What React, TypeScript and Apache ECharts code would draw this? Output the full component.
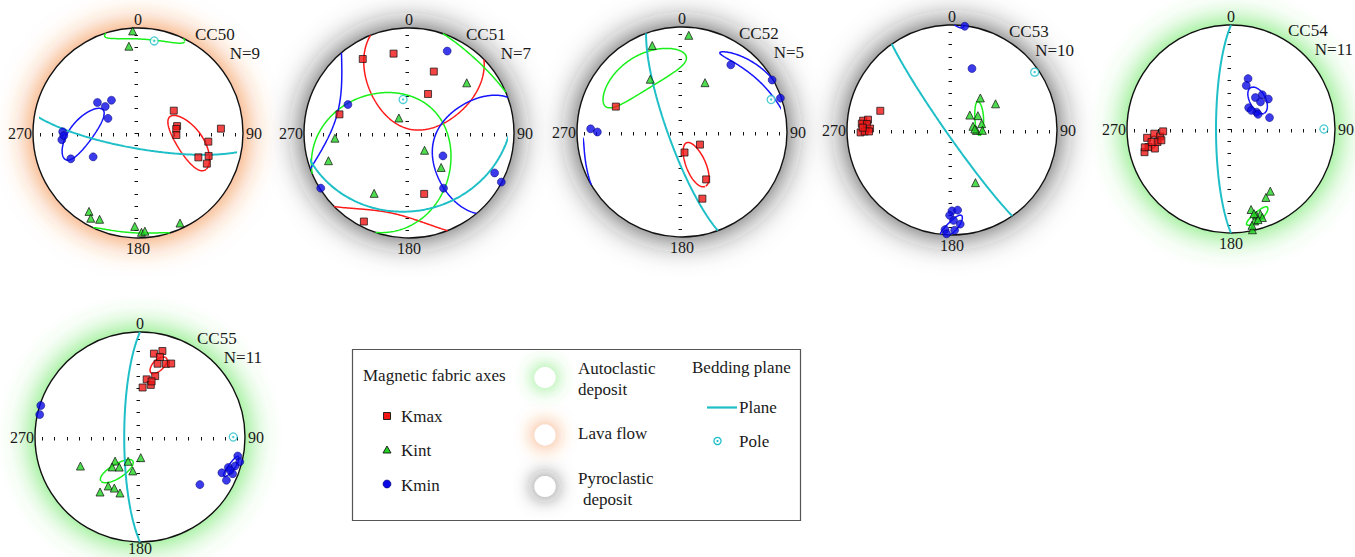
import React, { useEffect, useRef } from "react";
import * as echarts from "echarts";

type Dir = [number, number]; // [declination, inclination] in degrees
type Cone = { dec: number; inc: number; a: number; b: number; az: number }; // confidence cone: mean, semi-angles, map azimuth of major axis

// ---------- CC50 (lava flow) ----------
const cc50Kmax: Dir[] = [[58, 57], [80, 59], [84, 60], [93, 60], [87, 22], [97, 33], [108, 30], [112, 38], [114, 29]];
const cc50Kint: Dir[] = [[357, 3], [354, 18], [212, 13], [209, 8], [204, 11], [182, 12], [178, 6], [176, 7], [155, 6]];
const cc50Kmin: Dir[] = [[307, 50], [309, 57], [321, 57], [296, 64], [271, 29], [265, 28], [268, 30], [249, 32], [242, 50]];
const cc50Pole: Dir = [10, 12];
const cc50Cones: Cone[] = [
  { dec: 100, inc: 48, a: 25, b: 10, az: 141 },
  { dec: 4, inc: 3, a: 23, b: 8.5, az: 94 },
  { dec: 270, inc: 45, a: 24, b: 9, az: 43 },
];

// ---------- CC51 (pyroclastic deposit) ----------
const cc51Kmax: Dir[] = [[349, 24], [328, 18], [22, 37], [26, 56], [285, 32], [166, 40], [207, 6]];
const cc51Kint: Dir[] = [[49, 28], [326, 76], [266, 30], [251, 20], [138, 72], [137, 53], [210, 34]];
const cc51Kmin: Dir[] = [[25, 15], [295, 36], [124, 58], [148, 38], [238, 1], [115, 11], [118, 0.5]];
const cc51Pole: Dir = [350, 63.5];
const cc51Cones: Cone[] = [
  { dec: 12, inc: 32, a: 55, b: 41, az: 12 },
  { dec: 223, inc: 55, a: 61, b: 52, az: 223 },
  { dec: 105, inc: 20, a: 50, b: 38, az: 105 },
];

// ---------- CC52 (pyroclastic deposit) ----------
const cc52Kmax: Dir[] = [[291, 33], [125, 73], [173, 74], [153, 48], [163, 34]];
const cc52Kint: Dir[] = [[4, 8.5], [341, 14], [329, 41], [25, 47]];
const cc52Kmin: Dir[] = [[36, 22], [60, 1], [71, 1], [272, 14], [270, 20.5]];
const cc52Pole: Dir = [70, 10.6];
const cc52Cones: Cone[] = [
  { dec: 157, inc: 62, a: 19, b: 7.3, az: 157 },
  { dec: 325, inc: 31.6, a: 33, b: 15, az: 60 },
  { dec: 57, inc: 7, a: 32.5, b: 5.5, az: 125 },
];

// ---------- CC53 (pyroclastic deposit) ----------
const cc53Kmax: Dir[] = [[285, 30], [276, 16], [277, 20.5], [274, 15], [274, 20], [271, 23], [268.5, 14], [269, 18], [269, 22], [271.5, 16]];
const cc53Kint: Dir[] = [[41.5, 56.5], [59, 50], [50, 72], [61, 67], [80, 73.5], [78, 66.4], [91, 71], [90.6, 66.4], [87.5, 72.3], [156, 44.3]];
const cc53Kmin: Dir[] = [[7, 0.5], [18, 38.4], [180, 24], [176, 24.5], [175, 11], [178.5, 5], [184, 5.5], [183, 1.2], [179, 15], [181.6, 19.8]];
const cc53Pole: Dir = [55, 4.4];
const cc53Cones: Cone[] = [
  { dec: 272.5, inc: 20, a: 4, b: 2.5, az: 0 },
  { dec: 67, inc: 67, a: 13, b: 3.4, az: 178 },
  { dec: 180, inc: 8.5, a: 12.5, b: 3.5, az: 207 },
];

// ---------- CC54 (autoclastic deposit) ----------
const cc54Kmax: Dir[] = [[264, 20], [266.5, 27], [264, 32], [268, 35], [255, 15], [257.7, 20], [255.6, 25.4], [260, 29], [260.7, 23.6], [258, 16.4], [260.8, 32.7]];
const cc54Kint: Dir[] = [[147.7, 30], [153, 27], [166, 21.3], [163.6, 14.7], [161, 14.4], [160.5, 10.6], [165.6, 9.6], [168, 1.1], [163.4, 10], [164.8, 16.8], [167.7, 5.8]];
const cc54Kmin: Dir[] = [[18.7, 47.6], [19.3, 53.4], [37.8, 58.6], [42.4, 53.2], [51.2, 52], [47.4, 58.4], [39.6, 68.3], [56.7, 66], [61.5, 65.8], [73.5, 58.3], [47.4, 68.4]];
const cc54Pole: Dir = [90, 11.7];
const cc54Cones: Cone[] = [
  { dec: 260.5, inc: 25, a: 4.5, b: 3, az: 215 },
  { dec: 163, inc: 13, a: 9.4, b: 3.7, az: 214 },
  { dec: 43, inc: 59, a: 11, b: 6.4, az: 155 },
];

// ---------- CC55 (autoclastic deposit) ----------
const cc55Kmax: Dir[] = [[9.5, 20.6], [14.6, 16.5], [13.5, 29], [19.5, 27], [23, 25], [14, 40], [6.6, 44], [11.7, 48], [3, 51], [11.8, 45], [14, 22.5]];
const cc55Kint: Dir[] = [[244, 37], [226, 63], [223, 58], [214.6, 61.5], [206, 69], [192, 63], [178, 74], [213, 43.7], [206.7, 44.7], [216, 35.5], [199.7, 42.8]];
const cc55Kmin: Dir[] = [[287.6, 1], [282.6, 2.4], [128.5, 28], [101, 5.8], [104, 2.4], [107, 6], [109, 12], [113.6, 16], [116.6, 8.8], [111.6, 5.7], [110.3, 9.5]];
const cc55Pole: Dir = [90, 12.2];
const cc55Cones: Cone[] = [
  { dec: 14.4, inc: 30, a: 9, b: 3.8, az: 36 },
  { dec: 214, inc: 57.5, a: 15, b: 5.2, az: 236 },
  { dec: 108, inc: 9, a: 8, b: 3, az: 231 },
];

const DIRECTION_LABELS = ["0", "90", "180", "270"];

type Site = {
  name: string; n: number; kind: "lava" | "pyro" | "auto";
  kmax: Dir[]; kint: Dir[]; kmin: Dir[]; pole: Dir; cones: Cone[];
  cx: number; cy: number; r: number;
};

const SITES: Site[] = [
  { name: "CC50", n: 9, kind: "lava", kmax: cc50Kmax, kint: cc50Kint, kmin: cc50Kmin, pole: cc50Pole, cones: cc50Cones, cx: 138, cy: 133, r: 105 },
  { name: "CC51", n: 7, kind: "pyro", kmax: cc51Kmax, kint: cc51Kint, kmin: cc51Kmin, pole: cc51Pole, cones: cc51Cones, cx: 409, cy: 133, r: 105 },
  { name: "CC52", n: 5, kind: "pyro", kmax: cc52Kmax, kint: cc52Kint, kmin: cc52Kmin, pole: cc52Pole, cones: cc52Cones, cx: 682, cy: 132, r: 105 },
  { name: "CC53", n: 10, kind: "pyro", kmax: cc53Kmax, kint: cc53Kint, kmin: cc53Kmin, pole: cc53Pole, cones: cc53Cones, cx: 952, cy: 130, r: 105 },
  { name: "CC54", n: 11, kind: "auto", kmax: cc54Kmax, kint: cc54Kint, kmin: cc54Kmin, pole: cc54Pole, cones: cc54Cones, cx: 1231, cy: 129, r: 104 },
  { name: "CC55", n: 11, kind: "auto", kmax: cc55Kmax, kint: cc55Kint, kmin: cc55Kmin, pole: cc55Pole, cones: cc55Cones, cx: 140, cy: 437, r: 105 },
];

const GLOW: Record<string, string> = {
  lava: "rgba(240,118,36,0.95)",
  pyro: "rgba(30,30,30,0.85)",
  auto: "rgba(70,225,60,0.95)",
};
const RED = "#f01414";
const GREEN = "#22d422";
const BLUE = "#0a0ae6";
const CYAN = "#1fbfc8";
const CONE_COLORS = ["#ff1a1a", "#19f019", "#1414ff"];
const SERIF = '"Liberation Serif", "Times New Roman", serif';

// Axis ticks sit every TICK of the unit radius; the axes run over 8 ticks either side.
const TICKS = 8;
const TICK = 0.116;
const SCALE = 1 / TICK;
const RAD = Math.PI / 180;

function vec(dec: number, inc: number): number[] {
  const d = dec * RAD, i = inc * RAD;
  return [Math.cos(i) * Math.cos(d), Math.cos(i) * Math.sin(d), Math.sin(i)]; // north, east, down
}
function norm(v: number[]): number[] {
  const l = Math.hypot(v[0], v[1], v[2]);
  return [v[0] / l, v[1] / l, v[2] / l];
}
const neg = (v: number[]) => [-v[0], -v[1], -v[2]];
// Lower-hemisphere equal-area (Schmidt) projection, in axis units.
function toXY(v0: number[]): number[] {
  let v = norm(v0);
  if (v[2] < 0) v = neg(v);
  const k = 1 / Math.sqrt(1 + v[2]);
  return [v[1] * k * SCALE, v[0] * k * SCALE];
}
const dirXY = (d: Dir) => toXY(vec(d[0], d[1]));

function conePaths(c: Cone, steps = 360): number[][][] {
  const m = vec(c.dec, c.inc);
  const D = c.dec * RAD, I = c.inc * RAD;
  const er = [Math.sin(I) * Math.cos(D), Math.sin(I) * Math.sin(D), -Math.cos(I)];
  const et = [-Math.sin(D), Math.cos(D), 0];
  const psi = (c.az - c.dec) * RAD;
  const U = er.map((v, i) => v * Math.cos(psi) + et[i] * Math.sin(psi));
  const V = er.map((v, i) => -v * Math.sin(psi) + et[i] * Math.cos(psi));
  const ta = Math.tan(c.a * RAD), tb = Math.tan(c.b * RAD);
  const ring: number[][] = [];
  for (let k = 0; k <= steps; k++) {
    const t = (2 * Math.PI * k) / steps;
    ring.push(norm(m.map((mv, i) => mv + ta * Math.cos(t) * U[i] + tb * Math.sin(t) * V[i])));
  }
  const segs: number[][][] = [];
  let cur: number[][] = [];
  ring.forEach((v, k) => {
    if (k > 0) {
      const u = ring[k - 1];
      if ((u[2] >= 0) !== (v[2] >= 0)) {
        // the cone crosses the horizontal: finish this piece on the primitive, resume at the antipode
        const f = u[2] / (u[2] - v[2]);
        const q = u.map((uv, i) => uv + (v[i] - uv) * f);
        q[2] = 0;
        const end = u[2] >= 0 ? q : neg(q);
        cur.push(toXY(end));
        segs.push(cur);
        cur = [toXY(neg(end))];
      }
    }
    cur.push(toXY(v));
  });
  segs.push(cur);
  return segs.filter((sg) => sg.length > 1);
}

function planePath(pole: Dir, steps = 180): number[][] {
  const D = pole[0] * RAD, I = pole[1] * RAD;
  const s = [-Math.sin(D), Math.cos(D), 0];
  const d = [-Math.sin(I) * Math.cos(D), -Math.sin(I) * Math.sin(D), Math.cos(I)];
  const out: number[][] = [];
  for (let k = 0; k <= steps; k++) {
    const t = (Math.PI * k) / steps;
    out.push(toXY(s.map((sv, i) => Math.cos(t) * sv + Math.sin(t) * d[i])));
  }
  return out;
}

function buildOption() {
  const grid: any[] = [];
  const xAxis: any[] = [];
  const yAxis: any[] = [];
  const series: any[] = [];
  const graphic: any[] = [];

  const axisBase = {
    type: "value",
    min: -TICKS,
    max: TICKS,
    interval: 1,
    axisLine: { show: false, onZero: true },
    axisTick: { show: true, length: 3.5, lineStyle: { color: "#111", width: 1 } },
    axisLabel: { show: false },
    splitLine: { show: false },
  };

  SITES.forEach((s, gi) => {
    const half = TICKS * TICK * s.r;
    grid.push({ left: s.cx - half, top: s.cy - half, width: 2 * half, height: 2 * half });
    xAxis.push({ ...axisBase, gridIndex: gi });
    yAxis.push({ ...axisBase, gridIndex: gi });

    // net background with its deposit-type glow, and the primitive circle
    graphic.push({
      type: "circle", z: 0, silent: true,
      shape: { cx: s.cx, cy: s.cy, r: s.r },
      style: { fill: "#ffffff", shadowBlur: 34, shadowColor: GLOW[s.kind] },
    });
    graphic.push({
      type: "circle", z: 1, silent: true,
      shape: { cx: s.cx, cy: s.cy, r: s.r },
      style: { fill: "none", stroke: "#111", lineWidth: 1.4 },
    });

    const txt = (text: string, x: number, y: number, align: string, size = 16) =>
      graphic.push({
        type: "text", z: 2, silent: true, x, y,
        style: { text, fontSize: size, fontFamily: SERIF, fill: "#1a1a1a", align, verticalAlign: "middle" },
      });
    txt(DIRECTION_LABELS[0], s.cx, s.cy - s.r - 9, "center");
    txt(DIRECTION_LABELS[1], s.cx + s.r + 3, s.cy, "left");
    txt(DIRECTION_LABELS[2], s.cx, Math.min(s.cy + s.r + 10, 548), "center");
    txt(DIRECTION_LABELS[3], s.cx - s.r - 1, s.cy, "right");
    txt(s.name, s.cx + 57, s.cy - 99, "left", 17);
    txt(`N=${s.n}`, s.cx + 122, s.cy - 80, "right", 17);

    const common = { xAxisIndex: gi, yAxisIndex: gi, clip: false, silent: true, animation: false };

    s.cones.forEach((c, ci) => {
      conePaths(c).forEach((seg) =>
        series.push({
          ...common, type: "line", data: seg, showSymbol: false, symbol: "none", z: 3,
          lineStyle: { color: CONE_COLORS[ci], width: 1.5 },
        })
      );
    });
    series.push({
      ...common, type: "line", data: planePath(s.pole), showSymbol: false, symbol: "none", z: 3,
      lineStyle: { color: CYAN, width: 2 },
    });
    series.push({
      ...common, type: "scatter", data: s.kmax.map(dirXY), symbol: "rect", symbolSize: 7, z: 5,
      itemStyle: { color: RED, borderColor: "#111", borderWidth: 0.9 },
    });
    series.push({
      ...common, type: "scatter", data: s.kint.map(dirXY), symbol: "triangle", symbolSize: 8, z: 5,
      itemStyle: { color: GREEN, borderColor: "#111", borderWidth: 0.9 },
    });
    series.push({
      ...common, type: "scatter", data: s.kmin.map(dirXY), symbol: "circle", symbolSize: 8, z: 5,
      itemStyle: { color: BLUE, borderColor: "#000070", borderWidth: 0.6 },
    });
    series.push({
      ...common, type: "scatter", data: [dirXY(s.pole)], symbol: "circle", symbolSize: 8, z: 5,
      itemStyle: { color: "#ffffff", borderColor: CYAN, borderWidth: 1.3 },
    });
    series.push({
      ...common, type: "scatter", data: [dirXY(s.pole)], symbol: "circle", symbolSize: 2.4, z: 6,
      itemStyle: { color: CYAN },
    });
  });

  // ---------- legend box ----------
  const lt = (text: string, x: number, y: number, align = "left") =>
    graphic.push({
      type: "text", z: 2, silent: true, x, y,
      style: { text, fontSize: 17, fontFamily: SERIF, fill: "#1a1a1a", align, verticalAlign: "middle" },
    });
  graphic.push({
    type: "rect", z: 1, silent: true,
    shape: { x: 352.5, y: 349.5, width: 448, height: 171 },
    style: { fill: "#ffffff", stroke: "#555", lineWidth: 1.2 },
  });
  lt("Magnetic fabric axes", 363, 375);
  graphic.push({ type: "rect", z: 3, silent: true, shape: { x: 383.5, y: 412.5, width: 7, height: 7 }, style: { fill: RED, stroke: "#111", lineWidth: 0.9 } });
  lt("Kmax", 401, 416);
  graphic.push({ type: "polygon", z: 3, silent: true, shape: { points: [[387, 446], [391, 453], [383, 453]] }, style: { fill: GREEN, stroke: "#111", lineWidth: 0.9 } });
  lt("Kint", 401, 450);
  graphic.push({ type: "circle", z: 3, silent: true, shape: { cx: 387, cy: 484, r: 4 }, style: { fill: BLUE, stroke: "#000070", lineWidth: 0.6 } });
  lt("Kmin", 401, 485);

  const swatch = (cy: number, kind: string) =>
    graphic.push({
      type: "circle", z: 2, silent: true, shape: { cx: 545, cy, r: 10.5 },
      style: { fill: "#ffffff", shadowBlur: 20, shadowColor: GLOW[kind] },
    });
  swatch(377.5, "auto");
  swatch(435, "lava");
  swatch(486.5, "pyro");
  lt("Autoclastic", 578, 368);
  lt("deposit", 578, 389);
  lt("Lava flow", 578, 433);
  lt("Pyroclastic", 578, 478);
  lt("deposit", 583, 499);

  lt("Bedding plane", 692, 367);
  graphic.push({ type: "line", z: 3, silent: true, shape: { x1: 707, y1: 407.5, x2: 737, y2: 407.5 }, style: { stroke: CYAN, lineWidth: 2.2 } });
  lt("Plane", 739, 407);
  graphic.push({ type: "circle", z: 3, silent: true, shape: { cx: 717.5, cy: 441, r: 3.6 }, style: { fill: "#fff", stroke: CYAN, lineWidth: 1.3 } });
  graphic.push({ type: "circle", z: 4, silent: true, shape: { cx: 717.5, cy: 441, r: 1.1 }, style: { fill: CYAN } });
  lt("Pole", 739, 441);

  return {
    animation: false,
    backgroundColor: "#ffffff",
    grid, xAxis, yAxis, series, graphic,
  };
}

export default function App() {
  const ref = useRef<HTMLDivElement>(null);
  useEffect(() => {
    if (!ref.current) return;
    const chart = echarts.init(ref.current, undefined, { renderer: "svg" });
    chart.setOption(buildOption());
    return () => chart.dispose();
  }, []);
  return (
    <div
      ref={ref}
      style={{ position: "fixed", left: 0, top: 0, width: 1355, height: 557, background: "#fff" }}
    />
  );
}
